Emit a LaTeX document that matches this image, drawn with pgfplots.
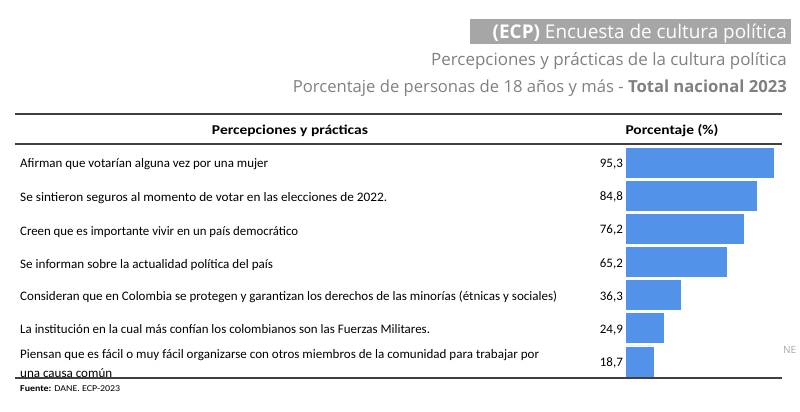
\documentclass[border=0pt]{standalone}
\usepackage{fontspec}
\setmainfont{Open Sans}
\newfontfamily\tabfont{Carlito}
\usepackage{graphicx}
\usepackage{pgfplots}
\pgfplotsset{compat=1.18}

\definecolor{barblue}{HTML}{5292E8}
\definecolor{titlegray}{HTML}{A6A6A6}
\definecolor{subgray}{HTML}{808080}
\definecolor{rulegray}{HTML}{404040}

% stretch a label to a given width, keeping its height
\newcommand\fitw[2]{\resizebox{#1}{\height}{#2}}

\begin{document}
\begin{tikzpicture}
% page frame (800 x 412)
\path (0,0) rectangle (800bp,-412bp);

% titles
\fill[titlegray] (470bp,-19bp) rectangle (791bp,-44bp);
\node[anchor=base east, inner sep=0, text=white, font=\fontsize{19}{22}\selectfont]
  at (787bp,-38bp) {\textbf{(ECP)} Encuesta de cultura política};
\node[anchor=base east, inner sep=0, text=subgray, font=\fontsize{17}{20}\selectfont]
  at (787bp,-65bp) {Percepciones y prácticas de la cultura política};
\node[anchor=base east, inner sep=0, text=subgray, font=\fontsize{16.7}{20}\selectfont]
  at (787bp,-92bp) {Porcentaje de personas de 18 años y más - \textbf{Total nacional 2023}};

% table rules
\draw[rulegray, line width=2bp] (15bp,-114bp) -- (782bp,-114bp);
\draw[rulegray, line width=2bp] (15bp,-144bp) -- (782bp,-144bp);

% header
\node[anchor=base, inner sep=0, font=\tabfont\bfseries\fontsize{13.5}{15}\selectfont]
  at (290bp,-134bp) {\fitw{156bp}{Percepciones y prácticas}};
\node[anchor=base, inner sep=0, font=\tabfont\bfseries\fontsize{13.5}{15}\selectfont]
  at (672bp,-134bp) {\fitw{93bp}{Porcentaje (\%)}};

% bars
\begin{axis}[
    at={(625bp,-378bp)}, anchor=south west,
    scale only axis,
    width=156.3bp, height=232bp,
    xmin=0, xmax=100,
    ymin=0.5, ymax=7.5,
    y dir=reverse,
    xbar, bar width=31bp, bar shift=0pt,
    axis line style={draw=none},
    major tick length=0pt,
    xtick=\empty,
    ytick={1,2,3,4,5,6,7},
    yticklabels={{95,3},{84,8},{76,2},{65,2},{36,3},{24,9},{18,7}},
    yticklabel style={font=\tabfont\fontsize{13}{14}\selectfont, inner sep=2bp, yshift=-1.5bp},
    clip=false,
]
\addplot[fill=barblue, draw=white, line width=0.6bp] coordinates {
    (95.3,1) (84.8,2) (76.2,3) (65.2,4) (36.3,5) (24.9,6) (18.7,7)
};
\end{axis}

% row descriptions
\begin{scope}[every node/.style={anchor=base west, inner sep=0, font=\tabfont\fontsize{13}{14}\selectfont}]
\node at (20bp,-167bp) {\fitw{248bp}{Afirman que votarían alguna vez por una mujer}};
\node at (20bp,-201bp) {\fitw{367bp}{Se sintieron seguros al momento de votar en las elecciones de 2022.}};
\node at (20bp,-235bp) {\fitw{278bp}{Creen que es importante vivir en un país democrático}};
\node at (20bp,-268bp) {\fitw{253bp}{Se informan sobre la actualidad política del país}};
\node at (20bp,-300bp) {\fitw{537bp}{Consideran que en Colombia se protegen y garantizan los derechos de las minorías (étnicas y sociales)}};
\node at (20bp,-333bp) {\fitw{410bp}{La institución en la cual más confían los colombianos son las Fuerzas Militares.}};
\node at (20bp,-358bp) {\fitw{519bp}{Piensan que es fácil o muy fácil organizarse con otros miembros de la comunidad para trabajar por}};
\node at (20bp,-377bp) {\fitw{92bp}{una causa común}};
\end{scope}

\draw[rulegray, line width=1.5bp] (15bp,-378bp) -- (782bp,-378bp);

% notes
\node[anchor=base west, inner sep=0, text=gray!70, font=\fontsize{10}{11}\selectfont]
  at (783bp,-353bp) {NE};
\node[anchor=base west, inner sep=0, font=\tabfont\fontsize{9}{10}\selectfont]
  at (20bp,-391bp) {\fitw{100bp}{\textbf{Fuente:} DANE. ECP-2023}};
\end{tikzpicture}
\end{document}
